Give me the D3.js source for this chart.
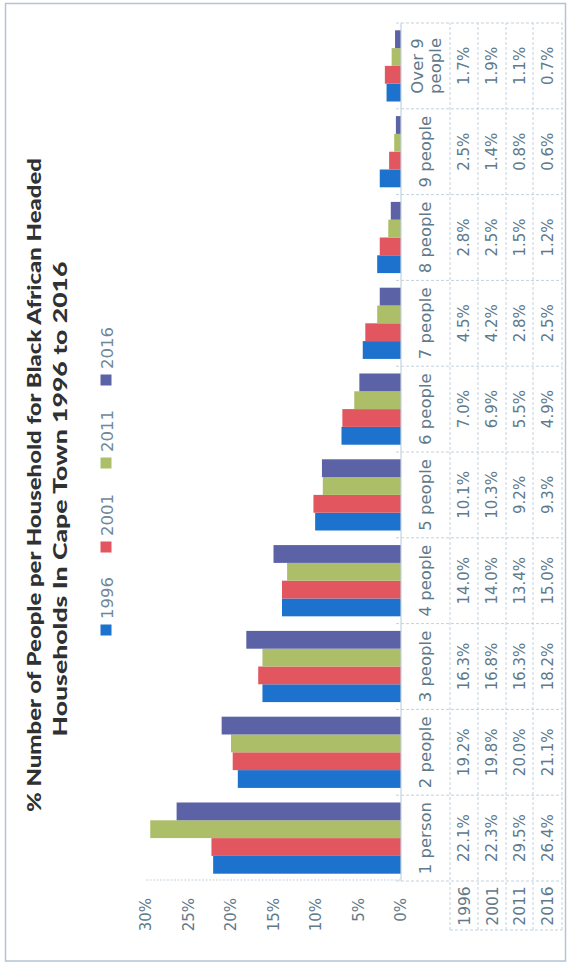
<!DOCTYPE html>
<html>
<head>
<meta charset="utf-8">
<script src="https://cdn.jsdelivr.net/npm/d3@7/dist/d3.min.js"></script>
<style>
  html, body { margin: 0; padding: 0; background: #ffffff; }
  svg { display: block; }
</style>
</head>
<body>
<svg id="chart" width="569" height="964"></svg>
<script>
// Household size categories and the share of Black African headed households per census year
const categories = ["1 person", "2 people", "3 people", "4 people", "5 people",
                    "6 people", "7 people", "8 people", "9 people", "Over 9 people"];
const years = ["1996", "2001", "2011", "2016"];
const values1996 = [22.1, 19.2, 16.3, 14.0, 10.1, 7.0, 4.5, 2.8, 2.5, 1.7];
const values2001 = [22.3, 19.8, 16.8, 14.0, 10.3, 6.9, 4.2, 2.5, 1.4, 1.9];
const values2011 = [29.5, 20.0, 16.3, 13.4, 9.2, 5.5, 2.8, 1.5, 0.8, 1.1];
const values2016 = [26.4, 21.1, 18.2, 15.0, 9.3, 4.9, 2.5, 1.2, 0.6, 0.7];
const valueTicks = [0, 5, 10, 15, 20, 25, 30];
const titleLines = ["% Number of People per Household for Black African Headed",
                    "Households In Cape Town 1996 to 2016"];

const seriesValues = [values1996, values2001, values2011, values2016];
const seriesColors = ["#1c72cc", "#e2565f", "#adbe68", "#5b62a6"];

const W = 964, H = 569;          // drawing frame, turned a quarter turn on the page
const svg = d3.select("#chart");

// page border
svg.append("rect")
  .attr("x", 5.5).attr("y", 3.5).attr("width", 560).attr("height", 957.5)
  .attr("fill", "none").attr("stroke", "#b3c4d2").attr("stroke-width", 1.5);

// everything is laid out as an upright column chart, then rotated 90° anticlockwise
const g = svg.append("g").attr("transform", `translate(0,${W}) rotate(-90)`);

const textColor = "#5f7a8b";
const gridColor = "#c3d2de";
const labelFont = "'DejaVu Sans', sans-serif";

// scales
const x0 = d3.scaleBand().domain(categories).range([83, 941])
  .paddingInner(0.17).paddingOuter(0.085);
const x1 = d3.scaleBand().domain(years).range([0, x0.bandwidth()]);
const y = d3.scaleLinear().domain([0, 30]).range([401, 146]);

// title
const titleY = [41, 67];
const titleX = [479, 465];
const titleLen = [654, 475];
g.selectAll("text.title").data(titleLines).join("text")
  .attr("class", "title")
  .attr("x", (d, i) => titleX[i]).attr("y", (d, i) => titleY[i])
  .attr("text-anchor", "middle")
  .attr("textLength", (d, i) => titleLen[i])
  .attr("lengthAdjust", "spacingAndGlyphs")
  .style("font-family", "Lato, 'DejaVu Sans', sans-serif")
  .style("font-weight", 900)
  .style("font-size", "19.5px")
  .attr("fill", "#2f3133")
  .text(d => d);

// legend
const legendX = [334, 417, 501, 584];
const legend = g.selectAll("g.legend").data(years).join("g")
  .attr("class", "legend")
  .attr("transform", (d, i) => `translate(${legendX[i]},106)`);
legend.append("rect")
  .attr("x", -5.5).attr("y", -5.5).attr("width", 11).attr("height", 11)
  .attr("fill", (d, i) => seriesColors[i]);
legend.append("text")
  .attr("x", 11).attr("y", 7)
  .style("font-family", labelFont).style("font-size", "16.5px").style("font-weight", 400)
  .attr("fill", "#708898")
  .text(d => d);

// value axis labels
g.selectAll("text.tick").data(valueTicks).join("text")
  .attr("class", "tick")
  .attr("x", 66).attr("y", d => y(d)).attr("dy", "0.36em")
  .attr("text-anchor", "end")
  .style("font-family", labelFont).style("font-size", "15px")
  .attr("fill", textColor)
  .text(d => d + "%");

// value axis line
g.append("line")
  .attr("x1", 84).attr("x2", 84).attr("y1", 146).attr("y2", 401)
  .attr("stroke", gridColor).attr("stroke-width", 1).attr("stroke-dasharray", "2,1.5");

// bars
const groups = g.selectAll("g.cat").data(categories).join("g")
  .attr("class", "cat")
  .attr("transform", d => `translate(${x0(d)},0)`);
groups.selectAll("rect").data((c, ci) => years.map((yr, si) => ({ yr, si, v: seriesValues[si][ci] })))
  .join("rect")
  .attr("x", d => x1(d.yr)).attr("width", x1.bandwidth())
  .attr("y", d => y(d.v)).attr("height", d => y(0) - y(d.v))
  .attr("fill", d => seriesColors[d.si]);

// category baseline
g.append("line")
  .attr("x1", 83).attr("x2", 941).attr("y1", 401).attr("y2", 401)
  .attr("stroke", gridColor).attr("stroke-width", 1.2);

// data table below the columns
const rowEdges = [450, 478, 506, 533, 562];
const tableLeft = 34;
const step = x0.step();
const catEdges = d3.range(categories.length + 1).map(i => 83 + i * step);

g.selectAll("line.rowline").data(rowEdges).join("line")
  .attr("class", "rowline")
  .attr("x1", tableLeft).attr("x2", 941)
  .attr("y1", d => d).attr("y2", d => d)
  .attr("stroke", gridColor).attr("stroke-width", 1).attr("stroke-dasharray", "3,2");
g.selectAll("line.colline").data(catEdges).join("line")
  .attr("class", "colline")
  .attr("x1", d => d).attr("x2", d => d)
  .attr("y1", 396).attr("y2", 562)
  .attr("stroke", gridColor).attr("stroke-width", 1).attr("stroke-dasharray", "3,2");
g.append("line")
  .attr("x1", tableLeft).attr("x2", tableLeft).attr("y1", 450).attr("y2", 562)
  .attr("stroke", gridColor).attr("stroke-width", 1).attr("stroke-dasharray", "3,2");

// category header cells
const header = g.selectAll("text.cathead").data(categories).join("text")
  .attr("class", "cathead")
  .attr("x", d => x0(d) + x0.bandwidth() / 2)
  .attr("text-anchor", "middle")
  .style("font-family", labelFont).style("font-size", "16.5px")
  .attr("fill", textColor);
header.each(function (d) {
  const t = d3.select(this);
  if (d === "Over 9 people") {
    t.append("tspan").attr("x", x0(d) + x0.bandwidth() / 2).attr("y", 423).text("Over 9");
    t.append("tspan").attr("x", x0(d) + x0.bandwidth() / 2).attr("y", 441).text("people");
  } else {
    t.attr("y", 431).text(d);
  }
});

// year labels and values
years.forEach((yr, si) => {
  const rowMid = (rowEdges[si] + rowEdges[si + 1]) / 2;
  g.append("text")
    .attr("x", 58).attr("y", rowMid).attr("dy", "0.36em")
    .attr("text-anchor", "middle")
    .style("font-family", labelFont).style("font-size", "15.5px")
    .attr("fill", textColor)
    .text(yr);
  g.selectAll(`text.val${yr}`).data(categories).join("text")
    .attr("class", `val${yr}`)
    .attr("x", d => x0(d) + x0.bandwidth() / 2)
    .attr("y", rowMid).attr("dy", "0.36em")
    .attr("text-anchor", "middle")
    .style("font-family", labelFont).style("font-size", "15px")
    .attr("fill", textColor)
    .text((d, ci) => seriesValues[si][ci].toFixed(1) + "%");
});
</script>
</body>
</html>
